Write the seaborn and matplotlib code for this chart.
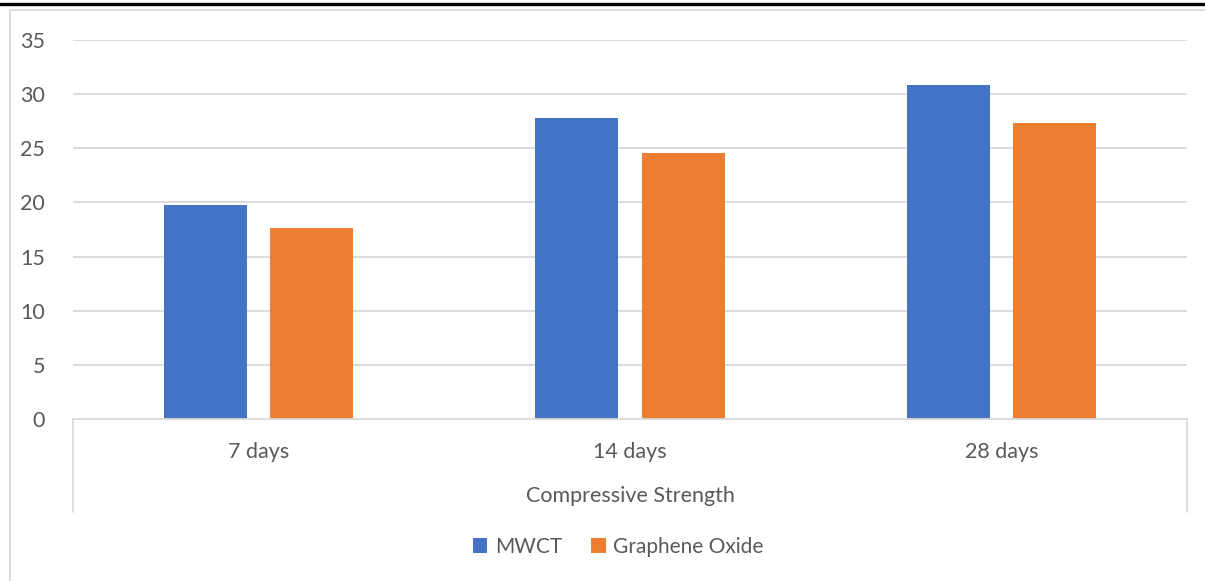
import matplotlib
matplotlib.use("Agg")
import matplotlib.pyplot as plt
from matplotlib.lines import Line2D
from matplotlib.patches import Patch
import pandas as pd
import seaborn as sns

# Compressive strength by curing age
ages = ["7 days", "14 days", "28 days"]
mwct = [19.8, 27.8, 30.8]
graphene_oxide = [17.65, 24.55, 27.35]
series_names = ["MWCT", "Graphene Oxide"]
colors = ["#4472C4", "#ED7D31"]
group_label = "Compressive Strength"
y_ticks = [0, 5, 10, 15, 20, 25, 30, 35]

df = pd.DataFrame({
    "age": ages * 2,
    "value": mwct + graphene_oxide,
    "series": [series_names[0]] * len(ages) + [series_names[1]] * len(ages),
})

sns.set_theme(style="white")
plt.rcParams["font.family"] = ["Lato", "DejaVu Sans"]
text_color = "#595959"
grid_color = "#D9D9D9"
fs = 15.5

W, H = 1205, 581
fig = plt.figure(figsize=(W / 100, H / 100), dpi=100)
x0, x1, y0, y1 = 73, 1187, 40, 419
ax = fig.add_axes([x0 / W, 1 - y1 / H, (x1 - x0) / W, (y1 - y0) / H])

sns.barplot(data=df, x="age", y="value", hue="series", order=ages,
            hue_order=series_names, palette=colors, saturation=1,
            width=0.571, gap=0.217, linewidth=0, errorbar=None, ax=ax,
            legend=False, zorder=3)

ax.set_xlim(-0.5, 2.5)
ax.set_ylim(0, 35)
ax.set_yticks(y_ticks)
ax.set_yticklabels([str(t) for t in y_ticks])
for t in y_ticks[1:]:
    ax.axhline(t, color=grid_color, linewidth=1.3, zorder=1)
for s in ["top", "right", "left"]:
    ax.spines[s].set_visible(False)
ax.spines["bottom"].set_color(grid_color)
ax.spines["bottom"].set_linewidth(1.3)
ax.spines["bottom"].set_zorder(4)
ax.tick_params(axis="y", length=0, pad=20, labelsize=fs, labelcolor=text_color)
ax.tick_params(axis="x", length=0, pad=16.5, labelsize=fs, labelcolor=text_color)
ax.set_xlabel("")
ax.set_ylabel("")

# Outer boundary lines of the two-level category axis
tr = ax.get_xaxis_transform()
depth = -(512 - y1) / (y1 - y0)
for xv in (-0.5, 2.5):
    ax.plot([xv, xv], [0, depth], transform=tr, color=grid_color,
            linewidth=1.3, clip_on=False)
ax.text(1.0, -(496 - y1) / (y1 - y0), group_label, transform=tr,
        ha="center", va="center", fontsize=fs, color=text_color)

# Legend along the bottom
handles = [Patch(facecolor=c, edgecolor="none") for c in colors]
fig.legend(handles, series_names, loc="center", bbox_to_anchor=(618 / W, 1 - 547 / H),
           ncol=2, frameon=False, fontsize=15, labelcolor=text_color,
           handlelength=0.7, handleheight=0.7, handletextpad=0.35,
           columnspacing=1.4)

# Chart frame and top rule
fig.add_artist(Line2D([10 / W, 10 / W], [0, 1 - 10 / H], color=grid_color,
                      linewidth=1.3, transform=fig.transFigure))
fig.add_artist(Line2D([10 / W, 1], [1 - 10 / H, 1 - 10 / H], color=grid_color,
                      linewidth=1.3, transform=fig.transFigure))
fig.add_artist(Line2D([0, 1], [1 - 4 / H, 1 - 4 / H], color="black",
                      linewidth=2.4, transform=fig.transFigure))

fig.savefig("out.png", dpi=100, facecolor="white")
